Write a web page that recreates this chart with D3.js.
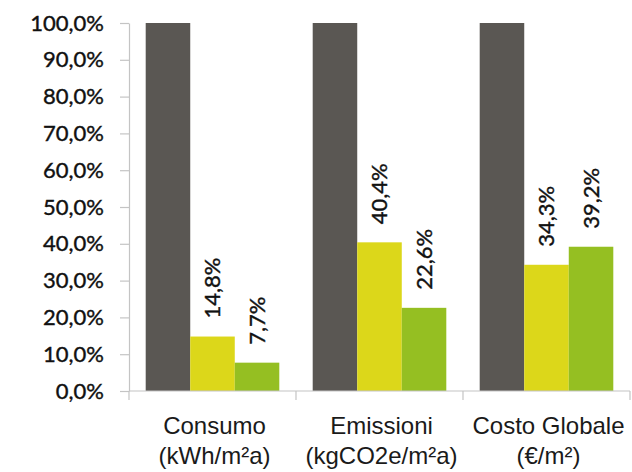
<!DOCTYPE html>
<html>
<head>
<meta charset="utf-8">
<script src="https://cdn.jsdelivr.net/npm/d3@7"></script>
<style>
  body { margin: 0; background: #fff; }
  svg { display: block; }
</style>
</head>
<body>
<div id="chart"></div>
<script>
// categories (two lines each) and series values, fraction of reference
var categories = ["Consumo", "Emissioni", "Costo Globale"];
var units = ["(kWh/m\u00B2a)", "(kgCO2e/m\u00B2a)", "(\u20AC/m\u00B2)"];
var seriesNames = ["Riferimento", "Scenario 1", "Scenario 2"];
var riferimento = [1.0, 1.0, 1.0];
var scenario1 = [0.148, 0.404, 0.343];
var scenario2 = [0.077, 0.226, 0.392];
var yTicks = [0, 0.1, 0.2, 0.3, 0.4, 0.5, 0.6, 0.7, 0.8, 0.9, 1.0];
var colors = ["#5a5753", "#dcd71a", "#95bf22"];

var width = 632, height = 472;
var margin = {top: 23, right: 2, bottom: 81, left: 129};

var values = [riferimento, scenario1, scenario2];
var fmt = function(v) { return (v * 100).toFixed(1).replace(".", ",") + "%"; };

var svg = d3.select("#chart").append("svg")
    .attr("width", width)
    .attr("height", height);

var x0 = d3.scaleBand()
    .domain(categories)
    .range([margin.left, width - margin.right])
    .paddingInner(0.2)
    .paddingOuter(0.1);

var x1 = d3.scaleBand()
    .domain(seriesNames)
    .range([0, x0.bandwidth()]);

var y = d3.scaleLinear()
    .domain([0, 1])
    .range([height - margin.bottom, margin.top]);

// y axis
var yAxis = svg.append("g")
    .attr("transform", "translate(" + margin.left + ",0)")
    .call(d3.axisLeft(y).tickValues(yTicks).tickFormat(fmt).tickSize(9).tickSizeOuter(0));
yAxis.select(".domain").attr("stroke", "#c4c4c4").attr("stroke-width", 1.2);
yAxis.selectAll(".tick line").attr("stroke", "#c4c4c4").attr("stroke-width", 1.2);
yAxis.selectAll(".tick text")
    .attr("x", -25)
    .attr("fill", "#111")
    .attr("stroke", "#111")
    .attr("stroke-width", 0.4)
    .style("font-family", "Lato, 'Open Sans', sans-serif")
    .style("font-size", "22px");

// bars
var groups = svg.append("g").selectAll("g")
    .data(categories)
    .join("g")
    .attr("transform", function(d) { return "translate(" + x0(d) + ",0)"; });

groups.selectAll("rect")
    .data(function(d, i) { return values.map(function(s, j) { return {s: seriesNames[j], v: s[i], j: j}; }); })
    .join("rect")
    .attr("x", function(d) { return x1(d.s); })
    .attr("y", function(d) { return y(d.v); })
    .attr("width", x1.bandwidth())
    .attr("height", function(d) { return y(0) - y(d.v); })
    .attr("fill", function(d) { return colors[d.j]; });

// rotated value labels (not on the reference series)
groups.selectAll("text")
    .data(function(d, i) { return values.map(function(s, j) { return {s: seriesNames[j], v: s[i], j: j}; }).filter(function(d) { return d.j > 0; }); })
    .join("text")
    .attr("transform", function(d) {
        return "translate(" + (x1(d.s) + x1.bandwidth() / 2) + "," + (y(d.v) - 18) + ") rotate(-90)";
    })
    .attr("dy", "0.36em")
    .attr("fill", "#111")
    .attr("stroke", "#111")
    .attr("stroke-width", 0.4)
    .style("font-family", "Lato, 'Open Sans', sans-serif")
    .style("font-size", "22px")
    .text(function(d) { return fmt(d.v); });

// x axis
var xAxis = svg.append("g")
    .attr("transform", "translate(0," + y(0) + ")");
xAxis.append("line")
    .attr("x1", margin.left).attr("x2", width - margin.right)
    .attr("stroke", "#c4c4c4").attr("stroke-width", 1.2);
var step = x0.step();
xAxis.selectAll(".sep")
    .data(d3.range(categories.length + 1))
    .join("line")
    .attr("class", "sep")
    .attr("x1", function(i) { return margin.left + i * step; })
    .attr("x2", function(i) { return margin.left + i * step; })
    .attr("y1", 0).attr("y2", 9)
    .attr("stroke", "#c4c4c4").attr("stroke-width", 1.2);

var catLabels = svg.append("g").selectAll("text")
    .data(categories)
    .join("text")
    .attr("x", function(d) { return x0(d) + x0.bandwidth() / 2 + 2; })
    .attr("y", 434)
    .attr("text-anchor", "middle")
    .attr("fill", "#1a1a1a")
    .style("font-family", "'Liberation Sans', Arial, sans-serif")
    .style("font-size", "24px");
catLabels.append("tspan").text(function(d) { return d; });
catLabels.append("tspan")
    .attr("x", function(d) { return x0(d) + x0.bandwidth() / 2 + 2; })
    .attr("dy", 30)
    .text(function(d, i) { return units[i]; });
</script>
</body>
</html>
